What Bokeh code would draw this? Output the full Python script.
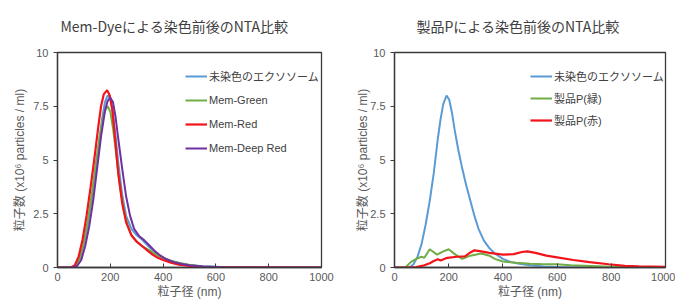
from bokeh.plotting import figure
from bokeh.models import Range1d, Legend, LegendItem, FixedTicker, Title
from bokeh.layouts import row
from bokeh.embed import file_html
from bokeh.resources import INLINE

# ---- data (left chart: Mem-Dye) ----
blue_x = [0, 55, 70, 85, 100, 115, 130, 145, 160, 170, 180, 190, 200, 210, 220, 230, 245, 260, 280, 300, 320, 340, 360, 380, 400, 430, 460, 500, 550, 600, 650, 1000]
blue_y = [0, 0, 0.1, 0.4, 1.1, 2.0, 3.2, 4.6, 6.1, 7.0, 7.7, 8.0, 7.85, 7.2, 6.1, 4.9, 3.4, 2.4, 1.8, 1.5, 1.3, 1.05, 0.8, 0.6, 0.45, 0.3, 0.2, 0.12, 0.06, 0.03, 0.0, 0]
green_x = [0, 55, 70, 85, 100, 115, 130, 145, 160, 170, 180, 190, 200, 210, 220, 235, 250, 265, 280, 300, 320, 340, 360, 380, 400, 430, 460, 500, 550, 600, 650, 1000]
green_y = [0, 0, 0.1, 0.45, 1.2, 2.2, 3.4, 4.8, 6.1, 6.8, 7.3, 7.5, 7.25, 6.5, 5.5, 3.9, 2.7, 2.0, 1.5, 1.2, 1.0, 0.85, 0.7, 0.55, 0.45, 0.32, 0.22, 0.12, 0.05, 0.02, 0, 0]
red_x = [0, 50, 65, 80, 95, 110, 125, 140, 155, 165, 175, 188, 198, 208, 218, 230, 245, 260, 280, 300, 320, 340, 360, 380, 400, 430, 460, 500, 550, 600, 1000]
red_y = [0, 0, 0.1, 0.5, 1.3, 2.4, 3.7, 5.1, 6.6, 7.5, 8.05, 8.25, 8.0, 7.3, 6.0, 4.4, 3.0, 2.1, 1.5, 1.2, 1.0, 0.8, 0.6, 0.45, 0.35, 0.22, 0.13, 0.07, 0.03, 0.01, 0]
purple_x = [0, 60, 75, 90, 105, 120, 135, 150, 165, 180, 190, 200, 210, 220, 230, 245, 260, 275, 290, 310, 330, 350, 370, 390, 410, 440, 470, 500, 550, 600, 650, 1000]
purple_y = [0, 0, 0.08, 0.35, 1.0, 1.9, 3.1, 4.6, 6.1, 7.3, 7.75, 7.9, 7.7, 7.0, 6.0, 4.6, 3.3, 2.4, 1.8, 1.45, 1.25, 1.0, 0.75, 0.55, 0.4, 0.25, 0.16, 0.1, 0.05, 0.02, 0, 0]

# ---- data (right chart: product P) ----
pblue_x = [0, 55, 70, 85, 100, 115, 130, 145, 160, 170, 180, 192, 202, 212, 222, 235, 250, 265, 280, 295, 310, 330, 350, 370, 400, 430, 460, 500, 550, 600, 650, 1000]
pblue_y = [0, 0, 0.15, 0.5, 1.1, 2.0, 3.1, 4.4, 6.0, 6.9, 7.6, 8.0, 7.8, 7.2, 6.4, 5.5, 4.6, 3.8, 3.1, 2.4, 1.8, 1.25, 0.9, 0.65, 0.4, 0.25, 0.17, 0.1, 0.05, 0.02, 0, 0]
pgreen_x = [0, 40, 60, 80, 100, 110, 130, 157, 180, 200, 225, 250, 280, 320, 350, 370, 400, 450, 500, 550, 600, 650, 700, 800, 900, 1000]
pgreen_y = [0, 0, 0.25, 0.4, 0.5, 0.45, 0.85, 0.6, 0.75, 0.85, 0.6, 0.4, 0.55, 0.65, 0.55, 0.4, 0.28, 0.22, 0.17, 0.15, 0.15, 0.1, 0.08, 0.04, 0.01, 0]
pred_x = [0, 50, 80, 110, 130, 145, 160, 170, 195, 230, 260, 280, 295, 320, 350, 400, 440, 470, 490, 520, 560, 600, 660, 720, 790, 850, 900, 1000]
pred_y = [0, 0, 0.02, 0.1, 0.2, 0.3, 0.38, 0.33, 0.45, 0.5, 0.52, 0.7, 0.8, 0.75, 0.68, 0.6, 0.62, 0.72, 0.75, 0.68, 0.55, 0.47, 0.35, 0.25, 0.15, 0.08, 0.05, 0.03]

x_ticks = [0, 200, 400, 600, 800, 1000]
y_ticks = [0, 2.5, 5, 7.5, 10]
y_tick_labels = {0: "0", 2.5: "2.5", 5: "5", 7.5: "7.5", 10: "10"}

title_left = "Mem-Dyeによる染色前後のNTA比較"
title_right = "製品Pによる染色前後のNTA比較"
xlabel = "粒子径 (nm)"
ylabel = "粒子数 (x10⁶ particles / ml)"
names_left = ["未染色のエクソソーム", "Mem-Green", "Mem-Red", "Mem-Deep Red"]
names_right = ["未染色のエクソソーム", "製品P(緑)", "製品P(赤)"]

BLUE, GREEN, RED, PURPLE = "#5B9BD5", "#70AD47", "#F2141A", "#7030A0"
GRAY = "#595959"
AXC = "#3a3a3a"
LATIN = "'Liberation Sans', 'Noto Sans CJK JP', sans-serif"
CJK = "'Noto Sans CJK JP', sans-serif"


def make_fig(width, bl, br, bb, label_standoff, title, title_offset):
    p = figure(width=width, height=304, output_backend="svg", toolbar_location=None,
               x_range=Range1d(0, 1000), y_range=Range1d(0, 10),
               min_border_left=bl, min_border_right=br, min_border_top=52,
               min_border_bottom=bb, background_fill_color="white",
               border_fill_color="white", title=None)
    p.add_layout(Title(text=title, align="left", vertical_align="top",
                       offset=title_offset, standoff=29,
                       text_font=CJK, text_font_size="14px",
                       text_font_style="normal", text_color="#404040"), "above")
    p.grid.visible = False
    p.outline_line_color = AXC
    p.outline_line_width = 1.3
    for ax in (p.xaxis[0], p.yaxis[0]):
        ax.axis_line_color = AXC
        ax.axis_line_width = 1.3
        ax.major_tick_line_color = AXC
        ax.minor_tick_line_color = None
        ax.major_label_text_color = GRAY
        ax.major_label_text_font = LATIN
        ax.major_label_text_font_size = "11px"
        ax.axis_label_text_font = LATIN
        ax.axis_label_text_font_size = "12px"
        ax.axis_label_text_font_style = "normal"
        ax.axis_label_text_color = GRAY
    p.xaxis.ticker = FixedTicker(ticks=x_ticks)
    p.xaxis.major_tick_in = 4
    p.xaxis.major_tick_out = 0
    p.xaxis.major_label_standoff = 5
    p.xaxis.axis_label = xlabel
    p.xaxis.axis_label_standoff = 1
    p.yaxis.ticker = FixedTicker(ticks=y_ticks)
    p.yaxis.major_label_overrides = y_tick_labels
    p.yaxis.major_tick_in = 0
    p.yaxis.major_tick_out = 4
    p.yaxis.major_label_standoff = 5
    p.yaxis.axis_label = ylabel
    p.yaxis.axis_label_standoff = label_standoff
    return p


def add_legend(p, items, loc, spacing):
    lg = Legend(items=items, location=loc, padding=0, margin=0, spacing=spacing,
                glyph_width=22, glyph_height=20, label_height=20, label_standoff=2,
                label_text_font=LATIN, label_text_font_size="11px",
                label_text_color="#404040", border_line_color=None,
                background_fill_alpha=0)
    p.add_layout(lg)


# left figure
p1 = make_fig(340, 57, 19, 35, 3, title_left, 3)
r1 = p1.line(blue_x, blue_y, color=BLUE, line_width=2)
r2 = p1.line(green_x, green_y, color=GREEN, line_width=2)
r3 = p1.line(red_x, red_y, color=RED, line_width=2.2)
r4 = p1.line(purple_x, purple_y, color=PURPLE, line_width=2)
add_legend(p1, [LegendItem(label=n, renderers=[r]) for n, r in zip(names_left, [r1, r2, r3, r4])], (128, 109), 4)

# right figure
p2 = make_fig(335, 54, 10, 37, -3, title_right, 22)
s1 = p2.line(pblue_x, pblue_y, color=BLUE, line_width=2)
s2 = p2.line(pgreen_x, pgreen_y, color=GREEN, line_width=2)
s3 = p2.line(pred_x, pred_y, color=RED, line_width=2.2)
add_legend(p2, [LegendItem(label=n, renderers=[r]) for n, r in zip(names_right, [s1, s2, s3])], (136, 137), 2)

layout = row(p1, p2)
open("out.html", "w").write(file_html(layout, INLINE))
